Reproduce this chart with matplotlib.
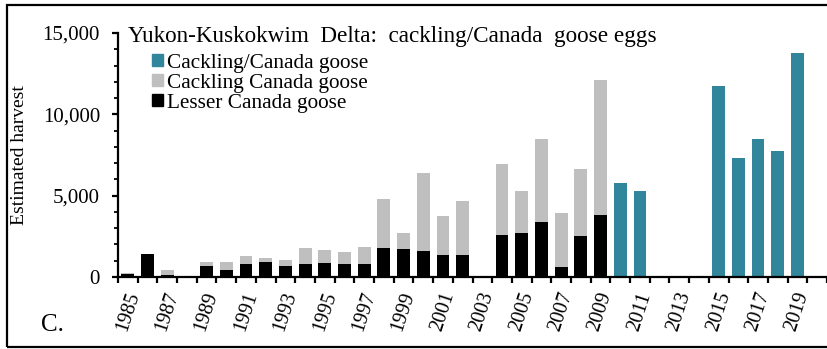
import numpy as np
import matplotlib
matplotlib.use("Agg")
import matplotlib.pyplot as plt
from matplotlib.patches import Patch, Rectangle

plt.rcParams['font.family'] = ['Liberation Serif', 'DejaVu Serif']

# harvest estimates (0 = no bar)
years = list(range(1985, 2021))
lesser = [200, 1430, 140, 0, 690, 450, 770, 940, 690, 770, 860, 770, 770, 1780,
          1700, 1620, 1370, 1370, 0, 2610, 2690, 3410, 590, 2530, 3800,
          0, 0, 0, 0, 0, 0, 0, 0, 0, 0, 0]
cackling = [50, 0, 260, 0, 230, 470, 530, 220, 370, 1020, 770, 780, 1090, 3000,
            1000, 4770, 2350, 3280, 0, 4330, 2600, 5100, 3370, 4080, 8330,
            0, 0, 0, 0, 0, 0, 0, 0, 0, 0, 0]
combined = [0, 0, 0, 0, 0, 0, 0, 0, 0, 0, 0, 0, 0, 0,
            0, 0, 0, 0, 0, 0, 0, 0, 0, 0, 0,
            5760, 5290, 0, 0, 0, 11720, 7330, 8510, 7720, 13760, 0]

label_years = list(range(1985, 2021, 2))

teal = '#31869B'
grey = '#BFBFBF'

fig = plt.figure(figsize=(8.27, 3.49), dpi=100)
ax = fig.add_axes([0.1427, 0.2063, 0.8573, 0.6991])

x = np.arange(len(years))
w = 0.65
lesser = np.array(lesser)
ax.bar(x, lesser, width=w, color='black')
ax.bar(x, cackling, width=w, bottom=lesser, color=grey)
ax.bar(x, combined, width=w, color=teal)

ax.set_xlim(-0.5, len(years) - 0.5)
ax.set_ylim(0, 15000)

for s in ['top', 'right']:
    ax.spines[s].set_visible(False)
for s in ['left', 'bottom']:
    ax.spines[s].set_linewidth(1.6)

ax.set_yticks([0, 5000, 10000, 15000])
ax.set_yticklabels(['0', '5,000', '10,000', '15,000'])
ax.set_yticks(np.arange(0, 15001, 1000), minor=True)
ax.tick_params(axis='y', which='major', length=4, width=1.6, pad=9, labelsize=15)
ax.tick_params(axis='y', which='minor', length=3, width=1.3)

# tick marks at category boundaries, labels at bar centres
ax.set_xticks(np.arange(-0.5, len(years), 1))
ax.set_xticklabels([])
ax.tick_params(axis='x', which='major', length=4, width=1.6)
ax.set_xticks([years.index(y) for y in label_years], minor=True)
ax.set_xticklabels([str(y) for y in label_years], minor=True, rotation=72,
                   ha='center', va='top')
ax.tick_params(axis='x', which='minor', length=0, pad=9, labelsize=14.5)

ax.set_ylabel('Estimated harvest', fontsize=14)
ax.yaxis.set_label_coords(-0.127, 0.5)

ax.text(0.014, 0.984, 'Yukon-Kuskokwim  Delta:  cackling/Canada  goose eggs',
        transform=ax.transAxes, fontsize=16.7, va='center', ha='left')

handles = [Patch(color=teal, label='Cackling/Canada goose'),
           Patch(color=grey, label='Cackling Canada goose'),
           Patch(color='black', label='Lesser Canada goose')]
ax.legend(handles=handles, loc='upper left', bbox_to_anchor=(0.03, 0.967),
          frameon=False, fontsize=15.3, handlelength=0.5, handleheight=0.5,
          handletextpad=0.2, labelspacing=0.05, borderpad=0.1)

fig.text(0.049, 0.07, 'C.', fontsize=18, ha='left', va='center')

fig.patches.append(Rectangle((0.0085, 0.0057), 1.2, 0.98, transform=fig.transFigure,
                             fill=False, edgecolor='black', linewidth=1.6))

fig.savefig('out.png', dpi=100)
